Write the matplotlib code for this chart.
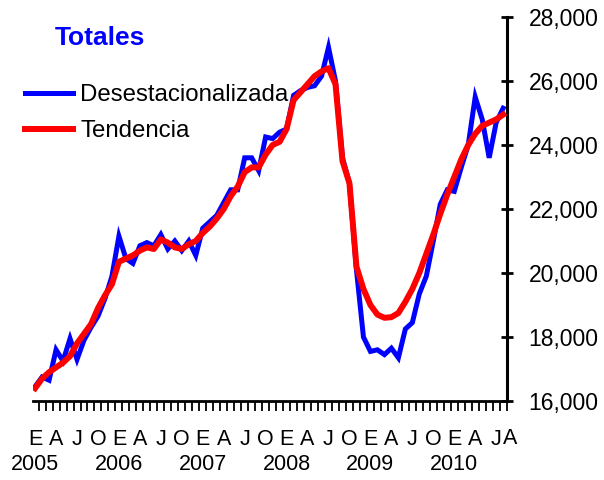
import matplotlib
matplotlib.use("Agg")
import matplotlib.pyplot as plt
from matplotlib.ticker import FuncFormatter, FixedLocator
from matplotlib.transforms import blended_transform_factory

plt.rcParams['font.family'] = ['Liberation Sans', 'DejaVu Sans']

# Monthly data, Jan 2005 .. Aug 2010
desestacionalizada = [
    16450, 16750, 16650, 17600, 17250, 17950, 17300, 17900, 18300, 18650, 19200, 19900,  # 2005
    21150, 20450, 20300, 20850, 20950, 20850, 21200, 20750, 21000, 20700, 21000, 20550,  # 2006
    21400, 21600, 21800, 22200, 22600, 22600, 23600, 23600, 23200, 24250, 24200, 24400,  # 2007
    24500, 25550, 25700, 25800, 25850, 26150, 27050, 26000, 23600, 22800, 20100, 18000,  # 2008
    17550, 17600, 17450, 17650, 17350, 18250, 18450, 19350, 19900, 21000, 22150, 22600,  # 2009
    22550, 23300, 24000, 25500, 24800, 23600, 24700, 25150,                              # 2010
]
tendencia = [
    16400, 16700, 16900, 17050, 17200, 17400, 17800, 18100, 18400, 18900, 19300, 19650,
    20350, 20450, 20550, 20700, 20800, 20750, 21050, 20950, 20800, 20750, 20900, 21000,
    21250, 21450, 21700, 22000, 22400, 22700, 23150, 23300, 23300, 23700, 24000, 24100,
    24500, 25400, 25650, 25900, 26150, 26300, 26400, 25900, 23500, 22800, 20200, 19500,
    19000, 18700, 18600, 18620, 18750, 19100, 19500, 20000, 20600, 21200, 21850, 22450,
    23000, 23550, 24000, 24350, 24600, 24700, 24800, 24950,
]
month_letters = ["E", "A", "J", "O"]
last_label = "A"
years = ["2005", "2006", "2007", "2008", "2009", "2010"]
y_ticks = [16000, 18000, 20000, 22000, 24000, 26000, 28000]

n = len(desestacionalizada)
x = list(range(n))

fig = plt.figure(figsize=(6.04, 4.8), dpi=100)
ax = fig.add_axes([33/604, 1 - 401/480, (507-33)/604, (401-17)/480])

ax.plot(x, desestacionalizada, color='#0000FF', lw=3.6, solid_joinstyle='miter',
        label='Desestacionalizada', zorder=2)
ax.plot(x, tendencia, color='#FF0000', lw=4.3, solid_joinstyle='round',
        label='Tendencia', zorder=3)

ax.set_xlim(-0.3, n - 1 + 0.55)
ax.set_ylim(16000, 28000)

# spines
for s in ['top', 'left']:
    ax.spines[s].set_visible(False)
ax.spines['bottom'].set_linewidth(2.0)
ax.spines['right'].set_linewidth(2.2)

# y axis on right
ax.yaxis.tick_right()
ax.set_yticks(y_ticks)
ax.yaxis.set_major_formatter(FuncFormatter(lambda v, p: f"{int(v):,}"))
ax.tick_params(axis='y', which='major', direction='inout', length=9, width=2,
               pad=11, labelsize=16.5, right=True, left=False)

# x axis: minor ticks each month, month letters each quarter
lab_pos = []
lab_txt = []
for i in range(0, n, 3):
    lab_pos.append(i)
    lab_txt.append(month_letters[(i % 12) // 3])
ax.xaxis.set_major_locator(FixedLocator(lab_pos))
ax.set_xticklabels(lab_txt, fontsize=15.5)
ax.xaxis.set_minor_locator(FixedLocator([i + 0.5 for i in range(-1, n)]))
ax.tick_params(axis='x', which='major', length=0, pad=20)
ax.tick_params(axis='x', which='minor', direction='out', length=7, width=1.3)

trans = blended_transform_factory(ax.transData, ax.transAxes)
# last month letter (August 2010), sits just right of the last tick
ax.text(n - 1 + 0.95, (401 - 438) / 384, last_label, transform=trans,
        ha='center', va='center', fontsize=15.5, clip_on=False)

# year row
for k, yr in enumerate(years):
    ax.text(k * 12, (401 - 465) / 384, yr, transform=trans, ha='center',
            va='center', fontsize=15.5)

# title
fig.text(55/604, 1 - 38/480, "Totales", color='#0000FF', fontsize=19,
         fontweight='bold', va='center', ha='left')

# legend
leg = ax.legend(loc='upper left', bbox_to_anchor=(25/604, 1 - 84/480),
                bbox_transform=fig.transFigure, frameon=False, fontsize=17.3,
                handlelength=2.0, handletextpad=0.3, labelspacing=0.6,
                borderpad=0, borderaxespad=0)

fig.savefig("out.png", dpi=100)
